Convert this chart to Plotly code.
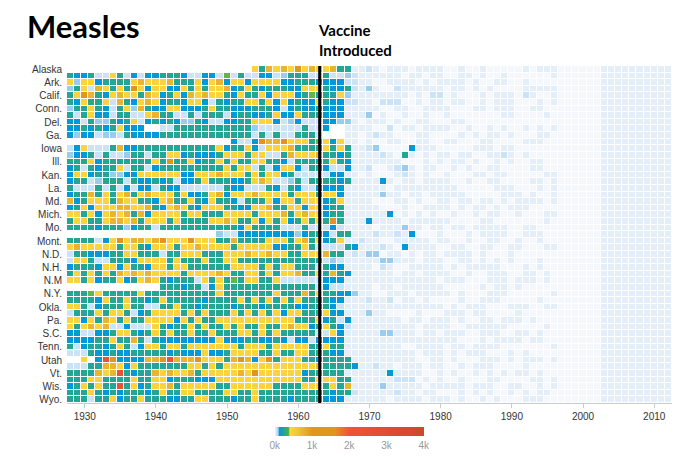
import plotly.graph_objects as go

states = ["Alaska","Ala.","Ark.","Ariz.","Calif.","Colo.","Conn.","D.C.","Del.","Fla.","Ga.","Hawaii",
          "Iowa","Idaho","Ill.","Ind.","Kan.","Ky.","La.","Mass.","Md.","Maine","Mich.","Minn.","Mo.",
          "Miss.","Mont.","N.C.","N.D.","Neb.","N.H.","N.J.","N.M","Nev.","N.Y.","Ohio","Okla.","Ore.",
          "Pa.","R.I.","S.C.","S.D.","Tenn.","Tex.","Utah","Va.","Vt.","Wash.","Wis.","W.Va.","Wyo."]
shown_labels = states[0::2]
years = list(range(1928, 2013))

# level codes (1928-1966 and 1967-2012)
pre = [
 "..........................7587879787785",
 "544522752424455542244262522442355522522",
 "737745555787778555747847747777445554444",
 "357287575974774475757784575455544777544",
 "579854787758745748787754755747774565557",
 "547557285478745547742545577574745447544",
 "355754257385447744457554445554245445444",
 "525744255227855225255524554457447555444",
 "442533545724545433542244557774234222443",
 "44545457444..225555555555532222225224..",
 "434423325444455555555555552525225552...",
 ".......................4224988977756747",
 "247222584455555555555745574277785555757",
 "344525223552557745444577757722587778554",
 "555745555555759557455757557755425555575",
 "452545572552455555555575772524774255422",
 "477455334477777744777877757577452222244",
 "455235552544545244575554457872235255554",
 "522252524244254422222254422254254224444",
 "455857578578777574457847778777757775774",
 "845777587755478557547554255574775777457",
 "457477788778547875477755447785577477455",
 "775747878584777757755577775777857877455",
 "577557887857775755557787557475745757595",
 "555545553455255555555555475555222522242",
 ".....................3224444444434554254",
 "555524797887897779777558555577757857457",
 "787777757754777577877775777774455752222",
 "255444557755525577755577787787755777855",
 "277522555477775755575577555555555555232",
 "455547747554775775555557777575775552544",
 "575757587878777757777875577575778557585",
 "775745574578754555275756577557222222444",
 ".............555455247555555555555524224",
 "555675555575555555555755555557555857554",
 "555547557554575555545555757575757555544",
 "775245557552255755455554555455554455542",
 "255575775245777757575557575757477555744",
 "774758757557777475755777777777775557452",
 "757878224222754557575575755755787745754",
 "442244577545757557557555775757555552274",
 "444455755852544444444744455445424424444",
 "524554575247757757777777577757777755755",
 "222544544555554544474457777557557755544",
 "..7.4r94444889r88897775898479577755455",
 "222558874755555557757577777777777778555",
 "5555878r545587877857777787977777745555",
 "555775555755774555444777777777777557775",
 "4575755r5745778577777557777775555777575",
 "555754545554575577555577557555555555545",
 "555255745575554455775554557555545555444",
]
post = [
 "5112101110111100100100000101110000001111111111",
 "3211111101101100110100100000010000001111111111",
 "2211001111010111101001100100000000001111111111",
 "5213100211111101101010000111110000001111111111",
 "3111111110102201000101110210010000001111111111",
 "2211022200101101100101110001010000001111111111",
 "1111100110011110001101110011000000001111111111",
 "1113010010010010000000110000100000001111111111",
 "3101110100110001100000000000000000001111111111",
 "1111002011011110010010100101010000001111111111",
 "1101211000110000101011010001100000001111111111",
 "1101001100110011000110000111000000001111111111",
 "5112300004111000001110110000000000001111111111",
 "5111121051010110110011210100000000001111111111",
 "4111111100010101101001010011000000001111111111",
 "4112001231011001010011000011000000001111111111",
 "1101000121010010001101100000110000001111111111",
 "5111141011011110010011000011010000001111111111",
 "1111110111111111000001110001010000001111111111",
 "1111131101101111100000111010010000001111111111",
 "1111000110100110110110101111010000001111111111",
 "1111100010011110101101011100000000001111111111",
 "1111114010101001001011001000110000001111111111",
 "1114111101111110000110000000100000001111111111",
 "1111011131101101101111100110000000001111111111",
 "5111211214000100010111100111000000001111111111",
 "1121100111110110010011001001000000001111111111",
 "5411121041111001100110011000110000001111111111",
 "1213301101011011110100010000000000001111111111",
 "1111133111011100110101010001000000001111111111",
 "1111021001111101011111000101000000001111111111",
 "4111111011011110010011100110100000001111111111",
 "1111111111111011100011101110100000001111111111",
 "1111011011111100000101101000000000001111111111",
 "4311001110111110100011100000010000001111111111",
 "1112112011010000100111000001000000001111111111",
 "1111111111111101011100011100110000001111111111",
 "1113110000100011101100001000000000001111111111",
 "4111111101101110100110111010000000001111111111",
 "2111111111011110011111100000100000001111111111",
 "1111133111011011100111001101000000001111111111",
 "1111111111111111000101111011000000001111111111",
 "1111111100111101101111000000010000001111111111",
 "1111111111011101011100010100000000001111111111",
 "5111111111001101000111010111010000001111111111",
 "5411211011101100101110000100000000001111111111",
 "1111114111100101001010101101000000001111111111",
 "5111111222010100100011000011010000001111111111",
 "8111131111101111101110011001010000001111111111",
 "5211111211011000101010010101100000001111111111",
 "1111110111101110100101000111000000001111111111",
]

level_values = {".": None, "0": 0, "1": 12, "2": 45, "3": 85, "4": 125, "5": 240,
                "6": 365, "7": 450, "8": 750, "9": 1300, "r": 2300}

z = []
for a, b in zip(pre, post):
    s = a[:39].ljust(39, "5") + b[:46]
    z.append([level_values[c] for c in s])

colorscale = [[0, "#f4f8fc"], [0.003, "#e4eef9"], [0.012, "#c9e2f6"], [0.022, "#95cbee"],
              [0.03, "#0099dc"], [0.09, "#4ab04a"], [0.1, "#ffd73e"], [0.15, "#eec73a"],
              [0.25, "#e29421"], [0.4, "#e29421"], [0.5, "#f05336"], [1, "#ce472e"]]

fig = go.Figure(go.Heatmap(
    z=z, x=years, y=states, zmin=0, zmax=4000, colorscale=colorscale,
    xgap=1, ygap=1, hoverongaps=False,
    colorbar=dict(orientation="h", xref="container", yref="container",
                  x=383.5 / 680, xanchor="center", y=18 / 457, yanchor="bottom",
                  lenmode="pixels", len=149, thickness=9, outlinewidth=0, ypad=0, xpad=0,
                  tickvals=[0, 1000, 2000, 3000, 4000], ticktext=["0k", "1k", "2k", "3k", "4k"],
                  tickfont=dict(size=10, color="#999", family="Liberation Sans"),
                  ticks="", ticklabelposition="outside bottom"),
))
fig.add_shape(type="line", x0=1963, x1=1963, y0=0, y1=1, yref="paper",
              line=dict(color="black", width=3))
fig.update_layout(
    annotations=[
        dict(text="<b>Vaccine<br>Introduced</b>", x=1963, y=1.015, yref="paper",
             xanchor="left", yanchor="bottom", align="left", showarrow=False, xshift=-4,
             font=dict(size=15, color="black", family="Lato")),
        dict(text="<b>Measles</b>", xref="paper", yref="paper", x=-0.07, y=1.055,
             xanchor="left", yanchor="bottom", showarrow=False,
             font=dict(size=31, color="black", family="Lato"))],
    width=680, height=457, margin=dict(l=59, r=16, t=58, b=62, autoexpand=False),
    paper_bgcolor="white", plot_bgcolor="white",
    xaxis=dict(tickvals=list(range(1930, 2011, 10)), showgrid=False, zeroline=False,
               ticks="outside", ticklen=4, tickcolor="#ccc", showline=True, linecolor="#ccc",
               tickfont=dict(size=10, color="#333", family="Liberation Sans"),
               range=[1927.5, 2012.5]),
    yaxis=dict(autorange="reversed", tickvals=shown_labels, showgrid=False, zeroline=False,
               tickfont=dict(size=10, color="#333", family="Liberation Sans"), ticklen=2,
               tickcolor="white", ticks="outside"),
)
fig.write_html("out.html")
